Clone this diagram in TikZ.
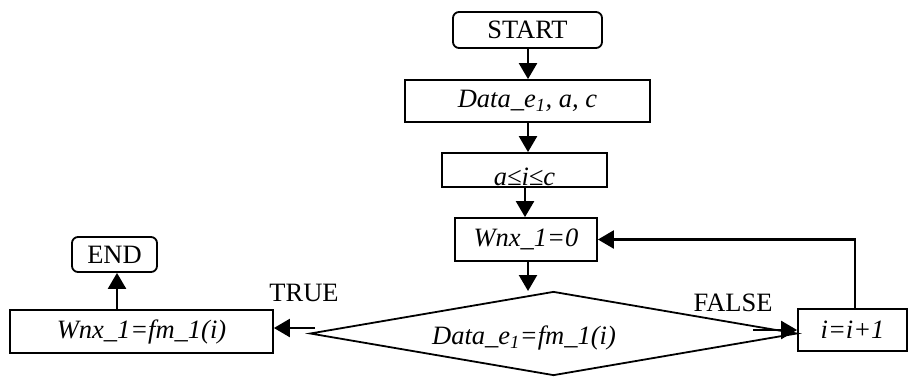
\documentclass[tikz,border=0pt]{standalone}
\usepackage{fontspec}
\setmainfont{Liberation Serif}
\usetikzlibrary{shapes.geometric,arrows.meta}
\begin{document}
\begin{tikzpicture}[x=1pt,y=1pt,
  every node/.style={font=\fontsize{26.5}{30}\selectfont},
  box/.style={draw,line width=1.8pt,inner sep=0pt},
  rbox/.style={box,rounded corners=6pt},
  conn/.style={line width=2.4pt,-{Triangle[length=16pt,width=18pt]}},
  lbl/.style={inner sep=0pt}]
\useasboundingbox (0,0) rectangle (909,-378);
\node[rbox,minimum width=149pt,minimum height=36pt] (start) at (527.5,-30) {START};
\node[box,minimum width=245pt,minimum height=42pt] (data) at (527.5,-101) {\textit{Data\_e\textsubscript{1}, a, c}};
\node[box,minimum width=165pt,minimum height=34pt] (range) at (524.5,-170) {};
\node[lbl,anchor=base] (rangetxt) at (524.5,-185) {\textit{a≤i≤c}};
\node[box,minimum width=142pt,minimum height=43pt] (wnx0) at (526,-239.5) {\textit{Wnx\_1=0}};
\node[draw,line width=1.8pt,shape=diamond,aspect=5.8,minimum width=487pt,minimum height=84pt,inner sep=0pt] (dec) at (553.5,-333.5) {};
\node[lbl] (dectxt) at (524,-338) {\textit{Data\_e\textsubscript{1}=fm\_1(i)}};
\node[box,minimum width=109pt,minimum height=42pt] (incr) at (852.5,-330) {\textit{i=i+1}};
\node[box,minimum width=263pt,minimum height=43pt] (wnxfm) at (141.5,-331.5) {\textit{Wnx\_1=fm\_1(i)}};
\node[rbox,minimum width=85pt,minimum height=35pt] (end) at (114.5,-254.5) {END};
\node[lbl] (truelbl) at (304,-293) {TRUE};
\node[lbl] (falselbl) at (733,-303) {FALSE};
\coordinate (tstart) at (315,-328);
\coordinate (fstart) at (753,-330);
\coordinate (dtop) at (528,-291);
\draw[conn] (start.south -| 528,0) -- (data.north -| 528,0);
\draw[conn] (data.south -| 528,0) -- (range.north -| 528,0);
\draw[conn] (range.south -| 525,0) -- (wnx0.north -| 525,0);
\draw[conn] (wnx0.south -| 528,0) -- (dtop);
\draw[conn] (tstart) -- (wnxfm.east |- tstart);
\draw[conn] (fstart) -- (incr.west |- fstart);
\draw[conn] (incr.north -| 855,0) |- (wnx0.east);
\draw[conn] (wnxfm.north -| 117,0) -- (end.south -| 117,0);
\end{tikzpicture}
\end{document}
